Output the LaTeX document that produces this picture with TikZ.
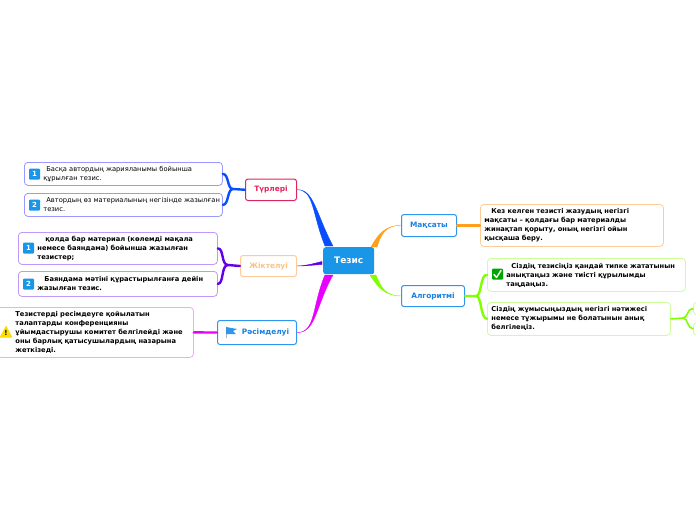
\documentclass[tikz,border=0pt]{standalone}
\usepackage{fontspec}
\setmainfont{DejaVu Sans}
\usetikzlibrary{calc}
\definecolor{hubblue}{HTML}{1A96E8}
\definecolor{capblue}{HTML}{2F95EE}
\definecolor{captext}{HTML}{1A7FE0}
\definecolor{branchblue}{HTML}{0A4DFF}
\definecolor{branchviolet}{HTML}{6200EE}
\definecolor{branchpink}{HTML}{E800FF}
\definecolor{branchorange}{HTML}{FF9F1A}
\definecolor{branchlime}{HTML}{80FF00}
\definecolor{capred}{HTML}{E0245E}
\definecolor{capsand}{HTML}{FFCC99}
\newcommand{\branchto}[6]{\filldraw[#1,line width=.4pt] (#2) .. controls (#3) and (#4) .. ($(#5)+(#6)$) -- ($(#5)-(#6)$) .. controls ($(#4)-(#6)$) and (#3) .. cycle;}
\tikzset{
	capbox/.style={draw=capblue,fill=white,rounded corners=2.5pt,line width=1pt,font=\fontsize{7.4}{9}\selectfont\bfseries,text=captext,inner sep=0pt,anchor=north west},
	leafbox/.style={draw=#1,fill=white,rounded corners=3.5pt,line width=.8pt,inner xsep=4pt,inner ysep=0pt,align=left,anchor=north west,font=\fontsize{6.7}{9}\selectfont\bfseries},
	numicon/.style={fill=hubblue,rounded corners=1pt,text=white,font=\fontsize{7}{7}\selectfont\bfseries,minimum size=11pt,inner sep=0pt},
	twig/.style={draw=#1,line width=2.4pt}
}
\begin{document}
\begin{tikzpicture}[x=1pt,y=-1pt,line cap=round,line join=round]
	\clip (0,0) rectangle (696,520);
	\node[fill=hubblue,rounded corners=2.5pt,minimum width=51pt,minimum height=27pt,inner sep=0pt,text=white,font=\fontsize{9}{9}\selectfont\bfseries,anchor=north west] (tezis) at (323,247) {Тезис};
	% main topics
	\node[capbox,draw=capred,text=capred,minimum width=51pt,minimum height=21.5pt] (turleri) at (245,178.5) {Түрлері};
	\node[capbox,draw=capsand,text=capsand!85!orange,minimum width=56pt,minimum height=21pt] (jiktelui) at (240,255) {Жіктелуі};
	\node[capbox,minimum width=79pt,minimum height=24pt] (resim) at (217,320) {\hspace{17pt}Рәсімделуі};
	\node[capbox,minimum width=55pt,minimum height=22pt] (maqsat) at (401,214) {Мақсаты};
	\node[capbox,minimum width=63pt,minimum height=21pt] (algoritm) at (401,285) {Алгоритмі};
	% leaves
	\node[leafbox=blue!40,inner xsep=2pt,font=\fontsize{6.7}{9}\selectfont,text width=194pt,minimum height=23pt] (tur1) at (24,162) {\hspace*{20pt}Басқа автордың жарияланымы бойынша\\\hspace*{17pt}құрылған тезис.};
	\node[leafbox=blue!40,inner xsep=2pt,font=\fontsize{6.7}{9}\selectfont,text width=194pt,minimum height=23pt] (tur2) at (24,193) {\hspace*{20pt}Автордың өз материалының негізінде жазылған\\\hspace*{17pt}тезис.};
	\node[leafbox=branchviolet!40,text width=191pt,minimum height=32pt] (jik1) at (18,232) {\hspace*{23pt}қолда бар материал (көлемді мақала\\\hspace*{15pt}немесе баяндама) бойынша жазылған\\\hspace*{15pt}тезистер;};
	\node[leafbox=branchviolet!40,text width=191pt,minimum height=25pt] (jik2) at (18,271) {\hspace*{22pt}Баяндама мәтіні құрастырылғанға дейін\\\hspace*{15pt}жазылған тезис.};
	\node[leafbox=branchpink!35,text width=188pt,minimum height=50pt] (res1) at (-3,307) {\hspace*{14pt}Тезистерді ресімдеуге қойылатын\\\hspace*{14pt}талаптарды конференцияны\\\hspace*{14pt}ұйымдастырушы комитет белгілейді және\\\hspace*{14pt}оны барлық қатысушылардың назарына\\\hspace*{14pt}жеткізеді.};
	\node[leafbox=capsand,text width=175pt,minimum height=42pt] (maq1) at (480,204) {\hspace*{7pt}Кез келген тезисті жазудың негізгі\\мақсаты – қолдағы бар материалды\\жинақтап қорыту, оның негізгі ойын\\қысқаша беру.};
	\node[leafbox=branchlime!40,text width=190pt,minimum height=33pt] (alg1) at (487,258) {\hspace*{20pt}Сіздің тезисіңіз қандай типке жататынын\\\hspace*{15pt}анықтаңыз және тиісті құрылымды\\\hspace*{15pt}таңдаңыз.};
	\node[leafbox=branchlime!40,text width=175pt,minimum height=33pt] (alg2) at (487,302) {Сіздің жұмысыңыздың негізгі нәтижесі\\немесе тұжырымы не болатынын анық\\белгілеңіз.};
	\node[leafbox=branchlime!40,text width=20pt,minimum height=12.5pt] (alg21) at (693,302) {};
	\node[leafbox=branchlime!40,text width=20pt,minimum height=13pt] (alg22) at (693,322) {};
	% branches from the hub
	\coordinate (hubtl) at (329,246);
	\coordinate (hubl) at (322,263);
	\coordinate (hubbl) at (329,275);
	\coordinate (hubtr) at (374,247);
	\coordinate (hubbr) at (373,275);
	\branchto{branchblue}{turleri.east}{314,189}{316,214}{hubtl}{4,0}
	\branchto{branchviolet}{jiktelui.east}{305,266}{314,265}{hubl}{0,1.5}
	\branchto{branchpink}{resim.east}{316,333}{316,305}{hubbl}{4,0}
	\branchto{branchorange}{maqsat.west}{386,225}{381,234}{hubtr}{3,0}
	\branchto{branchlime}{algoritm.west}{386,296}{381,288}{hubbr}{3,0}
	% small branches
	\coordinate (turj) at (233,189);
	\coordinate (jikj) at (228,265);
	\coordinate (algj) at (476,296);
	\coordinate (alj2) at (683,318);
	\draw[twig=branchblue] (turleri.west) -- (turj) .. controls (227,189) and (229,174) .. (tur1.east);
	\draw[twig=branchblue] (turj) .. controls (227,189) and (229,205) .. (tur2.east);
	\draw[twig=branchviolet] (jiktelui.west) -- (jikj) .. controls (221,265) and (224,248) .. (jik1.east);
	\draw[twig=branchviolet] (jikj) .. controls (221,265) and (224,284) .. (jik2.east);
	\draw[twig=branchpink] (resim.west) -- (res1.east);
	\draw[twig=branchorange] (maqsat.east) -- (maq1.west |- maqsat.east);
	\draw[twig=branchlime] (algoritm.east) -- (algj) .. controls (482,296) and (480,274) .. (alg1.west);
	\draw[twig=branchlime] (algj) .. controls (482,296) and (480,318) .. (alg2.west);
	\draw[twig=branchlime,line width=1.6pt] (alg2.east) -- (alj2) .. controls (688,318) and (687,308) .. (alg21.west);
	\draw[twig=branchlime,line width=1.6pt] (alj2) .. controls (688,318) and (687,328) .. (alg22.west);
	% icons
	\node[numicon] (n1) at (34.5,174) {1};
	\node[numicon] (n2) at (34.5,205) {2};
	\node[numicon] (n3) at (28.5,248) {1};
	\node[numicon] (n4) at (28.5,284) {2};
	\node[numicon,fill=green!65!black] (tick) at (497.5,274) {};
	\draw[white,line width=1.4pt] (494,274.5) -- (496.5,277.5) -- (501,270.5);
	\fill[yellow!80!orange,rounded corners=.8pt] (6,325.5) -- (12.5,337.5) -- (-.5,337.5) -- cycle;
	\node[inner sep=0pt,font=\fontsize{7}{7}\selectfont\bfseries] (warn) at (6,333) {!};
	\draw[gray!60,line width=.6pt] (226,327) -- (226,338);
	\fill[capblue] (226,327) -- (237,329) -- (233,331) -- (236,334) -- (226,334) -- cycle;
\end{tikzpicture}
\end{document}
